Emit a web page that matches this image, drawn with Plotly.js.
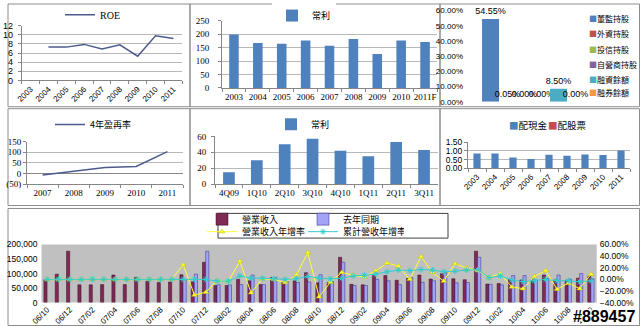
<!DOCTYPE html>
<html><head><meta charset="utf-8">
<script src="https://cdn.plot.ly/plotly-3.0.1.min.js"></script>
<style>html,body{margin:0;padding:0;background:#fff}#c{width:640px;height:326px}</style>
</head><body><div id="c"></div>
<script>
// ---------- data ----------
const roeYears = ['2003','2004','2005','2006','2007','2008','2009','2010','2011'];
const roeValues = [null,7.3,7.3,7.9,6.9,7.8,5.3,9.8,9.2];

const profitYears = ['2003','2004','2005','2006','2007','2008','2009','2010','2011F'];
const profitValues = [199,167,165,177,157,182,126,177,171];

const holdNames = ['董監持股','外資持股','投信持股','自營商持股','融資餘額','融券餘額'];
const holdValues = [0.5455,0.0005,0,0,0.085,0];
const holdColors = ['#4F81BD','#C0504D','#9BBB59','#8064A2','#4BACC6','#F79646'];

const reinvYears = ['2007','2008','2009','2010','2011'];
const reinvValues = [-7,10,28,33,103];
const reinvTickVals = [-50,0,50,100,150];
const reinvTickText = ['(50)','0','50','100','150'];

const quarters = ['4Q09','1Q10','2Q10','3Q10','4Q10','1Q11','2Q11','3Q11'];
const quarterProfit = [15,30,50,57,42,35,53,43];

const divYears = ['2003','2004','2005','2006','2007','2008','2009','2010','2011'];
const cashDiv = [0.85,0.85,0.62,0.53,0.78,0.72,0.80,0.77,1.02];
const stockDiv = [0,0,0,0,0,0,0,0,0];

const months = ['06/10','06/11','06/12',
 '07/01','07/02','07/03','07/04','07/05','07/06','07/07','07/08','07/09','07/10','07/11','07/12',
 '08/01','08/02','08/03','08/04','08/05','08/06','08/07','08/08','08/09','08/10','08/11','08/12',
 '09/01','09/02','09/03','09/04','09/05','09/06','09/07','09/08','09/09','09/10','09/11','09/12',
 '10/01','10/02','10/03','10/04','10/05','10/06','10/07','10/08','10/09','10/10'];
const monthTicks = ['06/10','06/12','07/02','07/04','07/06','07/08','07/10','07/12','08/02','08/04','08/06','08/08','08/10','08/12','09/02','09/04','09/06','09/08','09/10','09/12','10/02','10/04','10/06','10/08','10/10'];
const revenue = [79000,98000,177000,
 61000,61000,62000,95000,62000,87000,74000,69000,71000,96000,72000,139000,
 59000,59000,80000,75000,62000,86000,70000,75000,103000,68000,69000,156000,
 63000,61000,93000,93000,77000,83000,95000,81000,100000,82000,79000,177000,
 64000,66000,80000,78000,79000,95000,78000,77000,84000,90000];
const revenuePrev = [null,null,null,
 null,null,null,null,null,null,null,null,null,79000,98000,177000,
 61000,61000,62000,95000,62000,87000,74000,69000,71000,96000,72000,139000,
 59000,59000,80000,75000,62000,86000,70000,75000,103000,68000,69000,156000,
 63000,61000,93000,93000,77000,83000,95000,81000,100000,82000];
const yoy = [0,0,0,0,0,0,0,0,0,0,0,0,0.25,-0.27,-0.22,
 -0.03,-0.03,0.31,-0.23,0.01,0.0,-0.055,0.08,0.46,-0.30,-0.05,0.12,
 0.07,0.04,0.15,0.28,0.23,0.0,0.39,0.12,-0.03,0.27,0.195,0.15,
 0.034,0.10,-0.13,-0.16,0.05,0.15,-0.17,-0.065,-0.16,0.09];
const cumYoy = [0,0,0,0,0,0,0,0,0,0,0,0,0,0,0,
 -0.03,-0.03,0.06,0.02,0.02,0.01,0.0,0.01,0.05,0.02,0.01,0.02,
 0.06,0.07,0.09,0.13,0.16,0.15,0.17,0.16,0.13,0.14,0.16,0.166,
 0.03,0.06,-0.01,-0.04,-0.025,0.0,-0.025,-0.025,-0.04,-0.025];

// ---------- helpers (layout only) ----------
const W=640,H=326;
const px=(a,b)=>[a/W,b/W];
const py=(t,b)=>[1-b/H,1-t/H];
const sans='"Liberation Sans", Arial, sans-serif';
const serif='"Liberation Serif", "Times New Roman", serif';
const cjk='"Noto Sans CJK TC", "Noto Sans CJK SC", sans-serif';
const gridC='#B8B8B8', axisC='#868686', lineBlue='#4D5A8C';

const traces = [];
traces.push({type:'scatter',mode:'lines',x:roeYears,y:roeValues,name:'ROE',xaxis:'x',yaxis:'y',
  line:{color:lineBlue,width:1.5},legend:'legend'});
traces.push({type:'bar',x:profitYears,y:profitValues,name:'常利',xaxis:'x2',yaxis:'y2',width:0.4,
  marker:{color:'#4F81BD'},legend:'legend2'});
const holdOffsets=[-0.398,-0.266,-0.133,0,0.133,0.266];
holdNames.forEach((n,i)=>{
  traces.push({type:'bar',x:[0],y:[holdValues[i]],name:n,xaxis:'x3',yaxis:'y3',width:0.1328,offset:holdOffsets[i],
    marker:{color:holdColors[i]},showlegend:false,texttemplate:'%{y:.2%}',textposition:'outside',
    textfont:{family:sans,size:9,color:'#000'},cliponaxis:false,constraintext:'none'});
});
traces.push({type:'scatter',mode:'lines',x:reinvYears,y:reinvValues,name:'4年盈再率',xaxis:'x4',yaxis:'y4',
  line:{color:lineBlue,width:1.5},legend:'legend3'});
traces.push({type:'bar',x:quarters,y:quarterProfit,name:'常利',xaxis:'x5',yaxis:'y5',width:0.42,
  marker:{color:'#4F81BD'},legend:'legend4'});
traces.push({type:'bar',x:divYears,y:cashDiv,name:'配現金',xaxis:'x6',yaxis:'y6',width:0.4,
  marker:{color:'#4F81BD'},showlegend:false});
traces.push({type:'bar',x:divYears,y:stockDiv,name:'配股票',xaxis:'x6',yaxis:'y6',width:0.4,
  marker:{color:'#C0504D'},showlegend:false});
traces.push({type:'bar',x:months,y:revenue,name:'營業收入',xaxis:'x7',yaxis:'y7',width:0.28,offset:-0.29,
  marker:{color:'#7F2A55',line:{color:'#3A0A22',width:0.5}},legend:'legend6'});
traces.push({type:'bar',x:months,y:revenuePrev,name:'去年同期',xaxis:'x7',yaxis:'y7',width:0.28,offset:-0.01,
  marker:{color:'#A4A4F4',line:{color:'#2A2A8A',width:0.5}},legend:'legend6'});
traces.push({type:'scatter',mode:'lines+markers',x:months,y:yoy,name:'營業收入年增率',xaxis:'x7',yaxis:'y8',
  line:{color:'#FFFF33',width:1},marker:{symbol:'triangle-up',size:5,color:'#FFFF33',line:{color:'#B8B800',width:0.5}},legend:'legend7'});
traces.push({type:'scatter',mode:'lines+markers',x:months,y:cumYoy,name:'累計營收年增率',xaxis:'x7',yaxis:'y8',
  line:{color:'#33CCCC',width:1},marker:{symbol:'asterisk-open',size:5,color:'#33CCCC',line:{color:'#33CCCC',width:1}},legend:'legend7'});

const tf=(f,s)=>({family:f,size:s,color:'#000'});
const catX=(dom,anchor,n,extra)=>Object.assign({domain:dom,anchor:anchor,type:'category',range:[-0.5,n-0.5],
  showline:true,linecolor:axisC,ticks:'outside',ticklen:3,tickcolor:axisC,tickson:'boundaries',showgrid:false,
  fixedrange:true,automargin:false},extra);
const valY=(dom,anchor,extra)=>Object.assign({domain:dom,anchor:anchor,showgrid:true,gridcolor:gridC,gridwidth:1,
  showline:true,linecolor:axisC,ticks:'outside',ticklen:3,tickcolor:axisC,zeroline:false,fixedrange:true,automargin:false},extra);

const layout = {
  width:W,height:H,margin:{l:0,r:0,t:0,b:0},paper_bgcolor:'#fff',plot_bgcolor:'rgba(0,0,0,0)',
  barmode:'overlay',showlegend:true,font:{family:sans,size:9,color:'#000'},
  xaxis: catX(px(21.7,182.3),'y',9,{tickangle:-45,tickfont:tf(sans,8)}),
  yaxis: valY(py(22,77.3),'x',{range:[0,12],dtick:2,tickfont:tf(sans,9),ticklabelstandoff:3}),
  xaxis2: catX(px(222,437),'y2',9,{tickangle:0,tickfont:tf(serif,9)}),
  yaxis2: valY(py(17,85),'x2',{range:[0,250],dtick:50,tickfont:tf(serif,9),ticklabelstandoff:7}),
  xaxis3: {domain:px(464,592),anchor:'y3',range:[-0.539,0.461],visible:false,fixedrange:true},
  yaxis3: {domain:py(6.7,99),anchor:'x3',range:[0,0.6],dtick:0.1,tickformat:'.2%',showgrid:false,showline:false,
    zeroline:false,ticks:'',tickfont:tf(sans,8),fixedrange:true,automargin:false},
  xaxis4: catX(px(27,183),'y4',5,{tickangle:0,tickfont:tf(serif,9)}),
  yaxis4: valY(py(139.3,182.3),'x4',{range:[-50,150],tickvals:reinvTickVals,ticktext:reinvTickText,tickfont:tf(serif,9),
    zeroline:true,zerolinecolor:axisC,zerolinewidth:1}),
  xaxis5: catX(px(215,438),'y5',8,{tickangle:0,tickfont:tf(serif,9)}),
  yaxis5: valY(py(134,182.3),'x5',{range:[0,60],dtick:20,tickfont:tf(serif,9),ticklabelstandoff:3}),
  xaxis6: catX(px(468,630),'y6',9,{tickangle:-45,tickfont:tf(sans,8)}),
  yaxis6: valY(py(140,166.3),'x6',{range:[0,1.5],dtick:0.5,tickformat:'.2f',tickfont:tf(sans,8.5)}),
  xaxis7: {domain:px(41.5,596.7),anchor:'y7',type:'category',range:[-0.5,48.5],tickvals:monthTicks,ticktext:monthTicks,
    tickangle:-45,tickfont:tf(sans,8),showline:false,ticks:'',showgrid:false,fixedrange:true,automargin:false},
  yaxis7: {domain:py(243.5,302.3),anchor:'x7',range:[0,200000],dtick:50000,tickformat:',',tickfont:tf(sans,8.5),
    showgrid:false,zeroline:false,showline:false,ticks:'',fixedrange:true,automargin:false,ticklabelstandoff:3},
  yaxis8: {overlaying:'y7',anchor:'x7',side:'right',range:[-0.4,0.6],dtick:0.2,tickformat:'.2%',tickfont:tf(sans,8.5),
    showgrid:false,zeroline:false,showline:false,ticks:'',fixedrange:true,automargin:false,ticklabelstandoff:2},
  legend: {x:60/W,y:1-11/H,xanchor:'left',yanchor:'middle',orientation:'h',bgcolor:'rgba(0,0,0,0)',font:tf(serif,10)},
  legend2:{x:272/W,y:1-11.7/H,xanchor:'left',yanchor:'middle',orientation:'h',bgcolor:'#fff',font:tf(cjk,9)},
  legend3:{x:50/W,y:1-122/H,xanchor:'left',yanchor:'middle',orientation:'h',bgcolor:'rgba(0,0,0,0)',font:tf(cjk,9)},
  legend4:{x:271/W,y:1-121.7/H,xanchor:'left',yanchor:'middle',orientation:'h',bgcolor:'rgba(0,0,0,0)',font:tf(cjk,9)},
  legend6:{x:202/W,y:1-217.8/H,xanchor:'left',yanchor:'middle',orientation:'h',bgcolor:'rgba(0,0,0,0)',font:tf(cjk,9),entrywidth:56},
  legend7:{x:202/W,y:1-230.5/H,xanchor:'left',yanchor:'middle',orientation:'h',bgcolor:'rgba(0,0,0,0)',font:tf(cjk,9),entrywidth:56},
  shapes:[],annotations:[]
};
// panel borders
[[8,0,190,104],[190,0,440,104],[440,0,639.5,104],[8,106,190,204],[190,106,440,204],[440,106,639.5,204],[8,207,639.5,325.5]]
 .forEach(b=>layout.shapes.push({type:'rect',xref:'paper',yref:'paper',x0:b[0]/W,x1:b[2]/W,y0:1-b[3]/H,y1:1-b[1]/H,
   line:{color:'#8C8C8C',width:1},layer:'below'}));
// gray plot area of monthly chart
layout.shapes.push({type:'rect',xref:'x7 domain',yref:'y7 domain',x0:0,x1:1,y0:0,y1:1,fillcolor:'#C0C0C0',line:{width:0},layer:'below'});
// legend box of monthly chart
layout.shapes.push({type:'rect',xref:'paper',yref:'paper',x0:218/W,x1:448/W,y0:1-237/H,y1:1-212/H,line:{color:'#404040',width:1},fillcolor:'#fff',layer:'below'});
// shareholding legend (text entries)
const holdLegY=[15,30,46,61,76,90];
holdNames.forEach((n,i)=>layout.annotations.push({xref:'paper',yref:'paper',x:587/W,y:1-holdLegY[i]/H,xanchor:'left',yanchor:'middle',
  showarrow:false,text:'<span style="color:'+holdColors[i]+'">■</span>'+n,font:tf(cjk,8)}));
// dividend legend
[['配現金','#4F81BD',507],['配股票','#C0504D',546]].forEach(d=>layout.annotations.push({xref:'paper',yref:'paper',x:d[2]/W,y:1-122/H,
  xanchor:'left',yanchor:'middle',showarrow:false,text:'<span style="color:'+d[1]+'">■</span>'+d[0],font:tf(cjk,9.5)}));
// watermark
layout.annotations.push({xref:'paper',yref:'paper',x:637/W,y:1-316/H,xanchor:'right',yanchor:'middle',showarrow:false,text:'<b>#889457</b>',
  font:{family:sans,size:16,color:'#000',shadow:'1px 1px 0 #fff, -1px -1px 0 #fff, 1px -1px 0 #fff, -1px 1px 0 #fff'}});

Plotly.newPlot('c',traces,layout,{staticPlot:true,displayModeBar:false});
</script></body></html>
